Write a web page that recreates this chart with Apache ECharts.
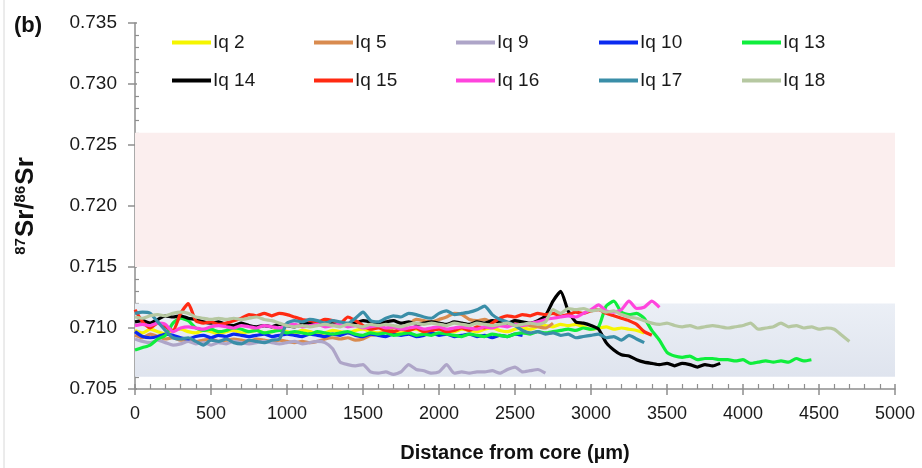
<!DOCTYPE html>
<html><head><meta charset="utf-8">
<script src="https://cdn.jsdelivr.net/npm/echarts@6/dist/echarts.min.js"></script>
<style>html,body{margin:0;padding:0;background:#fff}#c{width:922px;height:468px}</style>
</head><body><div id="c"></div>
<script>
// sampling interval of every profile (µm)
const STEP = 50;

const seriesNames  = ['Iq 2','Iq 5','Iq 9','Iq 10','Iq 13','Iq 14','Iq 15','Iq 16','Iq 17','Iq 18'];
const seriesColors = ['#f5f500','#d98b4f','#aea5c8','#0a2af0','#0fee3c','#000000','#ff2a12','#ff44dd','#3a8ea8','#b6c8a1'];

const iq2 = [0.7098,0.7096,0.7099,0.7097,0.7095,0.7098,0.7099,0.7097,0.7096,0.7098,0.7097,0.7095,0.7097,0.7098,0.7096,0.7097,0.7098,0.7096,0.7097,0.7099,
  0.7097,0.7096,0.7098,0.7097,0.7095,0.7096,0.7098,0.7097,0.7096,0.7098,0.7099,0.7097,0.7096,0.7098,0.7097,0.7096,0.7098,0.7099,0.7097,0.7098,
  0.7100,0.7098,0.7097,0.7099,0.7098,0.7097,0.7099,0.7100,0.7098,0.7097,0.7099,0.7100,0.7099,0.7101,0.7102,0.7101,0.7103,0.7102,0.7103,0.7101,
  0.7099,0.7100,0.7101,0.7099,0.7100,0.7099,0.7098,0.7096];
const iq5 = [0.7094,0.7092,0.7095,0.7093,0.7091,0.7092,0.7090,0.7091,0.7089,0.7090,0.7091,0.7089,0.7090,0.7091,0.7090,0.7089,0.7091,0.7090,0.7089,0.7090,
  0.7089,0.7088,0.7089,0.7088,0.7089,0.7091,0.7092,0.7091,0.7092,0.7090,0.7091,0.7094,0.7095,0.7097,0.7100,0.7101,0.7103,0.7107,0.7106,0.7105,
  0.7107,0.7109,0.7112,0.7111,0.7107,0.7106,0.7107,0.7105,0.7106,0.7104,0.7105,0.7103,0.7102,0.7101,0.7100,0.7104];
const iq9 = [0.7091,0.7089,0.7088,0.7090,0.7088,0.7086,0.7087,0.7089,0.7087,0.7088,0.7086,0.7088,0.7087,0.7089,0.7088,0.7087,0.7088,0.7089,0.7088,0.7087,
  0.7088,0.7089,0.7087,0.7088,0.7089,0.7088,0.7083,0.7072,0.7070,0.7069,0.7070,0.7064,0.7063,0.7064,0.7062,0.7064,0.7070,0.7066,0.7065,0.7063,
  0.7064,0.7070,0.7063,0.7064,0.7063,0.7064,0.7064,0.7065,0.7063,0.7066,0.7068,0.7064,0.7065,0.7066,0.7063];
const iq10 = [0.7097,0.7093,0.7092,0.7093,0.7095,0.7094,0.7092,0.7091,0.7093,0.7094,0.7092,0.7094,0.7093,0.7095,0.7094,0.7093,0.7094,0.7095,0.7093,0.7094,
  0.7095,0.7094,0.7093,0.7095,0.7094,0.7093,0.7095,0.7094,0.7096,0.7094,0.7093,0.7095,0.7094,0.7093,0.7095,0.7094,0.7095,0.7093,0.7094,0.7096,
  0.7094,0.7095,0.7093,0.7094,0.7095,0.7093,0.7094,0.7092,0.7094,0.7093,0.7095,0.7094];
const iq13 = [0.7082,0.7084,0.7086,0.7091,0.7094,0.7104,0.7108,0.7106,0.7100,0.7098,0.7099,0.7097,0.7098,0.7100,0.7099,0.7097,0.7098,0.7096,0.7097,0.7098,
  0.7096,0.7097,0.7096,0.7095,0.7097,0.7096,0.7095,0.7096,0.7097,0.7095,0.7094,0.7096,0.7095,0.7096,0.7094,0.7095,0.7096,0.7094,0.7095,0.7094,
  0.7096,0.7095,0.7094,0.7093,0.7095,0.7094,0.7093,0.7095,0.7094,0.7093,0.7095,0.7096,0.7095,0.7097,0.7096,0.7097,0.7098,0.7099,0.7098,0.7100,
  0.7099,0.7101,0.7118,0.7122,0.7113,0.7111,0.7112,0.7108,0.7098,0.7090,0.7080,0.7077,0.7076,0.7077,0.7074,0.7075,0.7075,0.7074,0.7074,0.7073,
  0.7074,0.7071,0.7072,0.7073,0.7072,0.7073,0.7072,0.7075,0.7073,0.7074];
const iq14 = [0.7105,0.7106,0.7104,0.7107,0.7110,0.7109,0.7110,0.7108,0.7107,0.7105,0.7104,0.7105,0.7103,0.7102,0.7104,0.7102,0.7101,0.7102,0.7101,0.7103,
  0.7102,0.7101,0.7103,0.7104,0.7103,0.7104,0.7105,0.7104,0.7103,0.7104,0.7106,0.7105,0.7104,0.7105,0.7106,0.7104,0.7105,0.7103,0.7104,0.7105,
  0.7104,0.7103,0.7105,0.7104,0.7103,0.7105,0.7104,0.7106,0.7105,0.7104,0.7106,0.7105,0.7104,0.7106,0.7110,0.7122,0.7130,0.7114,0.7105,0.7104,
  0.7102,0.7099,0.7088,0.7082,0.7078,0.7077,0.7074,0.7072,0.7071,0.7070,0.7071,0.7069,0.7071,0.7070,0.7068,0.7070,0.7069,0.7071];
const iq15 = [0.7115,0.7105,0.7100,0.7104,0.7101,0.7098,0.7112,0.7120,0.7106,0.7104,0.7105,0.7103,0.7104,0.7106,0.7108,0.7111,0.7110,0.7112,0.7110,0.7112,
  0.7111,0.7109,0.7107,0.7106,0.7105,0.7107,0.7106,0.7104,0.7109,0.7106,0.7102,0.7099,0.7100,0.7098,0.7097,0.7099,0.7098,0.7100,0.7097,0.7098,
  0.7099,0.7097,0.7098,0.7100,0.7098,0.7101,0.7100,0.7104,0.7108,0.7110,0.7109,0.7111,0.7110,0.7112,0.7111,0.7112,0.7110,0.7111,0.7113,0.7112,
  0.7114,0.7115,0.7112,0.7110,0.7108,0.7106,0.7103,0.7097,0.7094];
const iq16 = [0.7102,0.7103,0.7102,0.7104,0.7103,0.7097,0.7100,0.7101,0.7100,0.7099,0.7101,0.7102,0.7101,0.7100,0.7102,0.7101,0.7100,0.7102,0.7101,0.7100,
  0.7102,0.7103,0.7101,0.7102,0.7103,0.7101,0.7102,0.7103,0.7101,0.7102,0.7100,0.7101,0.7102,0.7100,0.7101,0.7099,0.7100,0.7101,0.7099,0.7100,
  0.7101,0.7099,0.7100,0.7101,0.7100,0.7099,0.7101,0.7100,0.7102,0.7101,0.7103,0.7102,0.7104,0.7105,0.7107,0.7108,0.7109,0.7110,0.7109,0.7112,
  0.7115,0.7119,0.7114,0.7113,0.7115,0.7122,0.7116,0.7117,0.7122,0.7117];
const iq17 = [0.7112,0.7113,0.7112,0.7105,0.7098,0.7092,0.7091,0.7092,0.7089,0.7086,0.7090,0.7089,0.7091,0.7088,0.7087,0.7090,0.7089,0.7088,0.7090,0.7091,
  0.7104,0.7106,0.7105,0.7107,0.7106,0.7104,0.7106,0.7105,0.7104,0.7108,0.7113,0.7106,0.7105,0.7108,0.7110,0.7109,0.7112,0.7111,0.7109,0.7108,
  0.7112,0.7114,0.7111,0.7112,0.7113,0.7115,0.7118,0.7111,0.7107,0.7105,0.7102,0.7098,0.7096,0.7097,0.7095,0.7096,0.7094,0.7095,0.7092,0.7093,
  0.7094,0.7095,0.7092,0.7093,0.7090,0.7094,0.7091,0.7088];
const iq18 = [0.7109,0.7108,0.7110,0.7111,0.7110,0.7112,0.7113,0.7112,0.7109,0.7108,0.7107,0.7108,0.7107,0.7108,0.7107,0.7108,0.7109,0.7107,0.7106,0.7104,
  0.7102,0.7101,0.7102,0.7101,0.7102,0.7103,0.7102,0.7101,0.7103,0.7102,0.7101,0.7103,0.7102,0.7103,0.7102,0.7101,0.7103,0.7104,0.7103,0.7104,
  0.7103,0.7102,0.7104,0.7103,0.7102,0.7104,0.7103,0.7102,0.7103,0.7104,0.7102,0.7103,0.7104,0.7103,0.7105,0.7115,0.7112,0.7116,0.7115,0.7116,
  0.7114,0.7115,0.7113,0.7114,0.7111,0.7109,0.7108,0.7106,0.7104,0.7103,0.7104,0.7102,0.7101,0.7102,0.7100,0.7101,0.7102,0.7101,0.7100,0.7101,
  0.7102,0.7104,0.7099,0.7100,0.7101,0.7104,0.7101,0.7102,0.7100,0.7101,0.7099,0.7100,0.7099,0.7094,0.7089];
const seriesValues = [iq2, iq5, iq9, iq10, iq13, iq14, iq15, iq16, iq17, iq18];

// reference ranges (shaded bands)
const pinkBand = [0.715, 0.726];
const blueBand = [0.706, 0.712];

// axes
const xRange = [0, 5000], xInterval = 500;
const yRange = [0.705, 0.735], yInterval = 0.005;

const FONT = 'Liberation Sans, Arial, sans-serif';
const axisColor = '#8e8e8e';
const chart = echarts.init(document.getElementById('c'));

const gridBox = {left: 135, right: 27, top: 23, bottom: 79};
const legendCols = [172, 314, 456, 599, 742];

const series = [{
  type: 'line', data: [], xAxisIndex: 0, yAxisIndex: 0, z: 1, silent: true,
  markArea: {
    silent: true,
    data: [
      [{coord: [xRange[0], pinkBand[0]], itemStyle: {color: '#fbeeee'}}, {coord: [xRange[1], pinkBand[1]]}],
      [{coord: [xRange[0], blueBand[0]], itemStyle: {color: {type: 'linear', x: 0, y: 0, x2: 0, y2: 1,
        colorStops: [{offset: 0, color: '#ebeff6'}, {offset: 1, color: '#dfe4ee'}]}}}, {coord: [xRange[1], blueBand[1]]}]
    ]
  }
}];
seriesNames.forEach((n, k) => {
  series.push({
    name: n, type: 'line', xAxisIndex: 0, yAxisIndex: 0, z: 3,
    data: seriesValues[k].map((v, i) => [i * STEP, v]),
    symbol: 'none', smooth: 0.2,
    lineStyle: {width: 3.2, color: seriesColors[k]},
    itemStyle: {color: seriesColors[k]}
  });
});

const legends = legendCols.map((x, c) => ({
  data: [seriesNames[c], seriesNames[c + 5]],
  orient: 'vertical', left: x, top: 33, padding: 0,
  itemWidth: 39, itemHeight: 20, itemGap: 19,
  icon: 'path://M0,0L40,0L40,4L0,4Z',
  selectedMode: false,
  textStyle: {fontSize: 19, fontFamily: FONT, color: '#1a1a1a', padding: [0, 0, 0, -3]}
}));

chart.setOption({
  animation: false,
  backgroundColor: '#fff',
  title: {text: '(b)', left: 9, top: 10, textStyle: {fontSize: 22, fontWeight: 'bold', fontFamily: FONT, color: '#111'}},
  legend: legends,
  grid: [Object.assign({}, gridBox), Object.assign({}, gridBox)],
  xAxis: [{
    type: 'value', gridIndex: 0, min: xRange[0], max: xRange[1], interval: xInterval,
    axisLine: {lineStyle: {color: axisColor, width: 1.5}},
    axisTick: {show: true, length: 6, lineStyle: {color: axisColor, width: 1.5}},
    splitLine: {show: false},
    axisLabel: {margin: 16, fontSize: 18, fontFamily: FONT, color: '#1a1a1a', formatter: v => String(v)},
    name: 'Distance from core (µm)', nameLocation: 'middle', nameGap: 54,
    nameTextStyle: {fontSize: 20, fontWeight: 'bold', fontFamily: FONT, color: '#111'}
  }, {
    type: 'value', gridIndex: 1, min: xRange[0], max: xRange[1], interval: xInterval,
    axisLine: {show: false},
    axisTick: {show: true, inside: true, length: 5, lineStyle: {color: axisColor, width: 1.5}},
    minorTick: {show: true, splitNumber: 5, length: 5, lineStyle: {color: axisColor, width: 1.2}},
    axisLabel: {show: false}, splitLine: {show: false}
  }],
  yAxis: [{
    type: 'value', gridIndex: 0, min: yRange[0], max: yRange[1], interval: yInterval,
    axisLine: {show: true, lineStyle: {color: axisColor, width: 1.5}},
    axisTick: {show: true, length: 7, lineStyle: {color: axisColor, width: 1.5}},
    splitLine: {show: false},
    axisLabel: {margin: 18, fontSize: 19, fontFamily: FONT, color: '#1a1a1a', formatter: v => v.toFixed(3)},
    name: '{sup|87}{m|Sr/}{sup|86}{m|Sr}', nameLocation: 'middle', nameGap: 94, nameRotate: 90,
    nameTextStyle: {rich: {
      m: {fontSize: 26, fontWeight: 'bold', fontFamily: FONT, color: '#111', lineHeight: 30},
      sup: {fontSize: 15, fontWeight: 'bold', fontFamily: FONT, color: '#111', lineHeight: 17, verticalAlign: 'top', padding: [2, 1, 0, 0]}
    }}
  }, {
    type: 'value', gridIndex: 1, min: yRange[0], max: yRange[1], interval: yInterval,
    axisLine: {show: false},
    axisTick: {show: true, inside: true, length: 2, lineStyle: {color: axisColor, width: 1.5}},
    minorTick: {show: true, splitNumber: 5, length: 4, lineStyle: {color: axisColor, width: 1.2}},
    axisLabel: {show: false}, splitLine: {show: false}
  }],
  graphic: [{type: 'line', shape: {x1: 4, y1: 0, x2: 4, y2: 468}, style: {stroke: '#d8d8d8', lineWidth: 1}}],
  series: series
});
</script></body></html>
